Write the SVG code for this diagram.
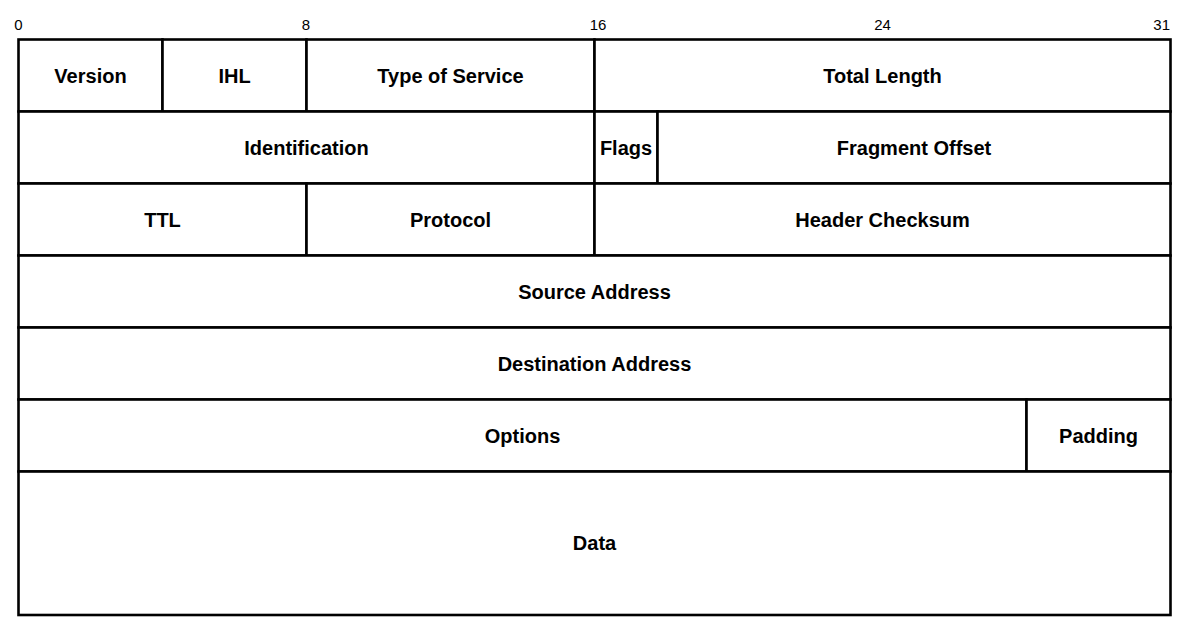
<svg xmlns="http://www.w3.org/2000/svg" width="1188" height="627" viewBox="0 0 1188 627">
  <style>
    .cell { fill: #ffffff; stroke: #000000; stroke-width: 2.6; }
    .lbl { font-family: "Liberation Sans", Arial, sans-serif; font-size: 20px; font-weight: bold; fill: #000000; text-anchor: middle; }
    .bit { font-family: "Liberation Sans", Arial, sans-serif; font-size: 15px; fill: #000000; text-anchor: middle; }
  </style>
  <rect width="1188" height="627" fill="#ffffff"/>

  <!-- bit offsets -->
  <g id="bit-scale">
    <text class="bit" x="18.5" y="30">0</text>
    <text class="bit" x="306" y="30">8</text>
    <text class="bit" x="598" y="30">16</text>
    <text class="bit" x="882.5" y="30">24</text>
    <text class="bit" x="1170" y="30" style="text-anchor:end">31</text>
  </g>

  <!-- row 1 -->
  <g id="version"><rect class="cell" x="18.5" y="39.5" width="144" height="72"/><text class="lbl" x="90.5" y="82.5">Version</text></g>
  <g id="ihl"><rect class="cell" x="162.5" y="39.5" width="144" height="72"/><text class="lbl" x="234.5" y="82.5">IHL</text></g>
  <g id="tos"><rect class="cell" x="306.5" y="39.5" width="288" height="72"/><text class="lbl" x="450.5" y="82.5">Type of Service</text></g>
  <g id="total-length"><rect class="cell" x="594.5" y="39.5" width="576" height="72"/><text class="lbl" x="882.5" y="82.5">Total Length</text></g>

  <!-- row 2 -->
  <g id="identification"><rect class="cell" x="18.5" y="111.5" width="576" height="72"/><text class="lbl" x="306.5" y="154.5">Identification</text></g>
  <g id="flags"><rect class="cell" x="594.5" y="111.5" width="63" height="72"/><text class="lbl" x="626" y="154.5">Flags</text></g>
  <g id="fragment-offset"><rect class="cell" x="657.5" y="111.5" width="513" height="72"/><text class="lbl" x="914" y="154.5">Fragment Offset</text></g>

  <!-- row 3 -->
  <g id="ttl"><rect class="cell" x="18.5" y="183.5" width="288" height="72"/><text class="lbl" x="162.5" y="226.5">TTL</text></g>
  <g id="protocol"><rect class="cell" x="306.5" y="183.5" width="288" height="72"/><text class="lbl" x="450.5" y="226.5">Protocol</text></g>
  <g id="header-checksum"><rect class="cell" x="594.5" y="183.5" width="576" height="72"/><text class="lbl" x="882.5" y="226.5">Header Checksum</text></g>

  <!-- rows 4-5 -->
  <g id="source-address"><rect class="cell" x="18.5" y="255.5" width="1152" height="72"/><text class="lbl" x="594.5" y="298.5">Source Address</text></g>
  <g id="destination-address"><rect class="cell" x="18.5" y="327.5" width="1152" height="72"/><text class="lbl" x="594.5" y="370.5">Destination Address</text></g>

  <!-- row 6 -->
  <g id="options"><rect class="cell" x="18.5" y="399.5" width="1008" height="72"/><text class="lbl" x="522.5" y="442.5">Options</text></g>
  <g id="padding"><rect class="cell" x="1026.5" y="399.5" width="144" height="72"/><text class="lbl" x="1098.5" y="442.5">Padding</text></g>

  <!-- payload -->
  <g id="data"><rect class="cell" x="18.5" y="471.5" width="1152" height="143.5"/><text class="lbl" x="594.5" y="550">Data</text></g>
</svg>
